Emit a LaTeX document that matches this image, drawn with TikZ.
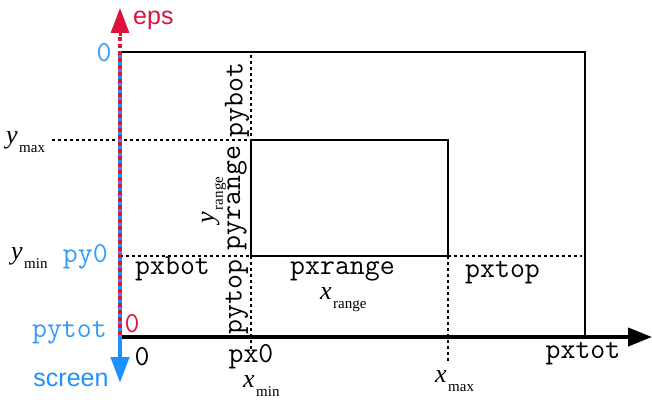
\documentclass[tikz,border=0pt]{standalone}
\usepackage{fontspec}
\setmainfont{Liberation Serif}
\setsansfont{Liberation Sans}
\usetikzlibrary{arrows.meta}
\definecolor{scrblue}{RGB}{30,144,255}
\definecolor{txtblue}{RGB}{51,153,255}
\definecolor{epsred}{RGB}{220,20,60}
\newcommand{\mylbl}[2]{{\fontsize{26}{26}\selectfont\itshape #1}\kern1.5pt{\fontsize{15}{15}\selectfont\raisebox{-9pt}{#2}}}
\tikzset{
  mono/.style={inner sep=0pt,font=\fontsize{29}{29}\selectfont\ttfamily},
  sans/.style={inner sep=0pt,font=\fontsize{25}{25}\selectfont\sffamily},
  mathlbl/.style={inner sep=0pt},
  frameline/.style={line width=1.5pt},
  guide/.style={line width=1.2pt,dash pattern=on 3pt off 3pt},
}
\begin{document}
\begin{tikzpicture}[x=1pt,y=-1pt]
\useasboundingbox (0,0) rectangle (652,401);
% key points
\coordinate (O) at (120,337);
\coordinate (Otop) at (120,52);
\coordinate (TR) at (585,52);
\coordinate (BR) at (585,337);
\coordinate (Xend) at (652,337);
\coordinate (Yend) at (120,383);
\coordinate (Rbot) at (120,335);
\coordinate (Rtop) at (120,36);
\coordinate (Rtip) at (120,8);
\coordinate (A) at (251,140);
\coordinate (B) at (448,256);
\coordinate (C) at (251,256);
\coordinate (ymaxL) at (52,140);
\coordinate (yminL) at (120,256);
\coordinate (rightL) at (582,256);
\coordinate (px0T) at (251,55);
\coordinate (px0B) at (251,350);
\coordinate (xmaxB) at (448,362);

% frame
\draw[frameline] (Otop) -- (TR) -- (BR);
\draw[frameline] (A) rectangle (B);
% guides
\draw[guide] (ymaxL) -- (A);
\draw[guide] (yminL) -- (C);
\draw[guide] (B) -- (rightL);
\draw[guide] (px0T) -- (A);
\draw[guide] (C) -- (px0B);
\draw[guide] (B) -- (xmaxB);

% x axis
\draw[line width=4pt,-{Triangle[length=24pt,width=18pt]}] (O) -- (Xend);
% screen axis (blue)
\draw[scrblue,line width=4.5pt,-{Triangle[length=26pt,width=18pt]}] (Otop) -- (Yend);
% eps axis (red dashed)
\draw[epsred,line width=3.5pt,dash pattern=on 4pt off 3pt] (Rbot) -- (Rtop);
\draw[epsred,line width=3pt,-{Triangle[length=25pt,width=18pt]}] (Rtop) -- (Rtip);

% labels
\node[sans,text=epsred,anchor=base west] (eps) at (133,25) {eps};
\node[sans,text=scrblue,anchor=base] (screen) at (71,386) {screen};
\node[mono,text=txtblue,anchor=base] (z0) at (104,62) {0};
\node[mono,text=txtblue,anchor=base east] (py0) at (108,262) {py0};
\node[mono,text=txtblue,anchor=base east] (pytot) at (107,337) {pytot};
\node[mono,text=epsred,anchor=base] (r0) at (132,332) {0};
\node[mono,anchor=base] (b0) at (142,365) {0};
\node[mono,anchor=base west] (pxbot) at (135,274) {pxbot};
\node[mono,anchor=base west] (pxrange) at (290,274) {pxrange};
\node[mono,anchor=base west] (pxtop) at (465,277) {pxtop};
\node[mono,anchor=base] (px0) at (251,362) {px0};
\node[mono,anchor=base] (pxtot) at (583,358) {pxtot};
\node[mono,rotate=90] (pybot) at (237,100) {pybot};
\node[mono,rotate=90] (pyrange) at (237,198) {pyrange};
\node[mono,rotate=90] (pytop) at (237,297) {pytop};
\node[mathlbl,anchor=base west] (ymax) at (6,143) {\mylbl{y}{max}};
\node[mathlbl,anchor=base west] (ymin) at (11,259) {\mylbl{y}{min}};
\node[mathlbl,anchor=base west] (xrange) at (320,299) {\mylbl{x}{range}};
\node[mathlbl,anchor=base west] (xmin) at (243,387) {\mylbl{x}{min}};
\node[mathlbl,anchor=base west] (xmax) at (435,382) {\mylbl{x}{max}};
\node[mathlbl,rotate=90] (yrange) at (214,200) {\mylbl{y}{range}};
\end{tikzpicture}
\end{document}
